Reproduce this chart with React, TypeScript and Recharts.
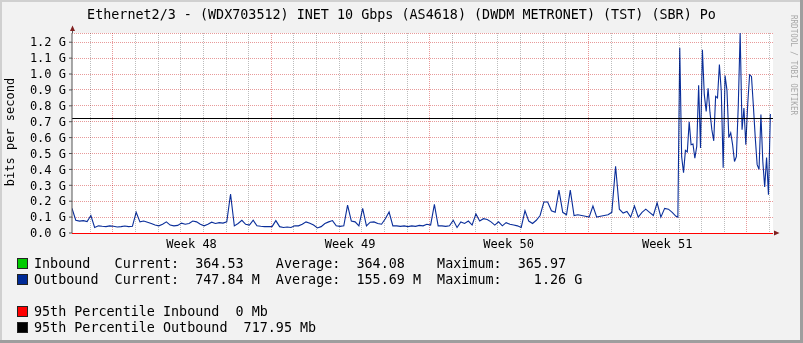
import React from 'react';
import { LineChart, Line, XAxis, YAxis, CartesianGrid, ReferenceLine } from 'recharts';

// Outbound traffic (Mbit/s), 4-hour samples from the left edge (h = 0 .. 640)
const coarseOutbound = [
  155, 80, 75, 78, 72, 110, 35, 45, 42, 40,
  45, 42, 38, 40, 44, 40, 42, 130, 70, 75,
  68, 60, 50, 45, 55, 70, 50, 45, 48, 62,
  55, 60, 75, 70, 55, 45, 55, 68, 60, 65,
  62, 70, 245, 45, 60, 80, 55, 50, 80, 45,
  42, 40, 40, 40, 78, 40, 35, 38, 35, 45,
  45, 55, 70, 62, 50, 32, 40, 60, 70, 78,
  45, 42, 45, 175, 75, 70, 45, 155, 45, 68,
  70, 60, 55, 90, 132, 45, 45, 42, 45, 40,
  45, 42, 48, 45, 55, 50, 180, 45, 45, 42,
  45, 80, 35, 70, 60, 75, 50, 120, 75, 90,
  85, 70, 50, 70, 45, 65, 55, 50, 45, 35,
  140, 75, 60, 80, 110, 195, 195, 140, 130, 270,
  130, 115, 270, 110, 115, 110, 105, 100, 170, 100,
  105, 110, 115, 130, 420, 150, 125, 135, 100, 170,
  100, 130, 150, 130, 110, 190, 100, 155, 150, 130,
  105,
];
const COARSE_STEP = 4;

// Outbound traffic (Mbit/s), 2-hour samples (h = 642 .. 740)
const fineOutbound = [
  100, 1165, 480, 380, 520, 510, 700, 555, 560, 470,
  545, 930, 535, 1153, 870, 765, 910, 760, 650, 580,
  860, 850, 1060, 890, 410, 990, 900, 600, 630, 555,
  450, 480, 800, 1258, 650, 786, 555, 810, 995, 985,
  800, 600, 430, 400, 745, 450, 290, 475, 240, 748,
];
const FINE_START = 642;
const FINE_STEP = 2;

const X_MAX_HOURS = 742.8;
const Y_MAX = 1258;
const dayGridHours = Array.from({ length: 31 }, (_, k) => 18.7 + 24 * k);
const weekGridHours = [42.7, 210.7, 378.7, 546.7, 714.7];
const weekLabelHours = [126.7, 294.7, 462.7, 630.7];
const weekLabels = ['Week 48', 'Week 49', 'Week 50', 'Week 51'];
const yTicks = [0, 100, 200, 300, 400, 500, 600, 700, 800, 900, 1000, 1100, 1200];

const percentileInbound = 0;
const percentileOutbound = 717.95;

const title = 'Ethernet2/3 - (WDX703512) INET 10 Gbps (AS4618) (DWDM METRONET) (TST) (SBR) Po';
const legendColors = ['#00CC00', '#002A97', '#FF0000', '#000000'];
const legendTexts = [
  'Inbound   Current:  364.53    Average:  364.08    Maximum:  365.97',
  'Outbound  Current:  747.84 M  Average:  155.69 M  Maximum:    1.26 G',
  '95th Percentile Inbound  0 Mb',
  '95th Percentile Outbound  717.95 Mb',
];
const legendBaselines = [268, 284, 316, 332];

const data = [
  ...coarseOutbound.map((v, i) => ({ h: i * COARSE_STEP, out: v })),
  ...fineOutbound.map((v, i) => ({ h: FINE_START + i * FINE_STEP, out: v })),
];

const MONO = '"DejaVu Sans Mono", monospace';
const W = 803;
const H = 343;
const MARGIN = { top: 33, right: 30, bottom: 90, left: 0 };
const X_AXIS_HEIGHT = 20;
const Y_AXIS_WIDTH = 72;
const PLOT_LEFT = MARGIN.left + Y_AXIS_WIDTH;
const PLOT_TOP = MARGIN.top;
const PLOT_WIDTH = W - PLOT_LEFT - MARGIN.right;
const PLOT_HEIGHT = H - MARGIN.top - MARGIN.bottom - X_AXIS_HEIGHT;
const MINOR = '#BDBDBD';
const MAJOR = '#E89A9A';

const gridX = (h: number) => Math.round(PLOT_LEFT + (h / X_MAX_HOURS) * PLOT_WIDTH) + 0.5;

export default function App() {
  return (
    <div style={{ position: 'absolute', left: 0, top: 0, width: W, height: H, background: '#F2F2F2', overflow: 'hidden' }}>
      <div style={{ position: 'absolute', left: 0, top: 0 }}>
        <LineChart width={W} height={H} data={data} margin={MARGIN}>
          <CartesianGrid vertical={false} stroke={MAJOR} strokeDasharray="1 1" fill="#FFFFFF" shapeRendering="crispEdges" />
          <XAxis
            type="number"
            dataKey="h"
            domain={[0, X_MAX_HOURS]}
            ticks={weekLabelHours}
            allowDataOverflow
            interval={0}
            height={X_AXIS_HEIGHT}
            axisLine={false}
            tickLine={false}
            tickSize={0}
            tickMargin={6}
            tickFormatter={(_v: number, i: number) => weekLabels[i]}
            tick={{ fontSize: 12, fill: '#000', fontFamily: MONO }}
          />
          <YAxis
            type="number"
            domain={[0, Y_MAX]}
            ticks={yTicks}
            interval={0}
            width={Y_AXIS_WIDTH}
            allowDataOverflow
            axisLine={{ stroke: '#555' }}
            tickLine={{ stroke: '#555' }}
            tickSize={3}
            tickMargin={3}
            tickFormatter={(v: number) => (v / 1000).toFixed(1) + ' G'}
            tick={{ fontSize: 12, fill: '#000', fontFamily: MONO }}
          />
          <Line
            type="linear"
            dataKey="out"
            stroke="#0A2E9A"
            strokeWidth={1.1}
            dot={false}
            activeDot={false}
            isAnimationActive={false}
          />
          <ReferenceLine y={percentileOutbound} stroke="#000000" strokeWidth={1} shapeRendering="crispEdges" />
          <ReferenceLine y={percentileInbound} stroke="#FF0000" strokeWidth={1} shapeRendering="crispEdges" />
        </LineChart>
      </div>
      {/* vertical grid, multiplied over the canvas so it sits visually beneath the data */}
      <svg width={W} height={H} style={{ position: 'absolute', left: 0, top: 0, pointerEvents: 'none', mixBlendMode: 'multiply' }}>
        {dayGridHours.map((h) => (
          <line key={'d' + h} x1={gridX(h)} x2={gridX(h)} y1={PLOT_TOP} y2={PLOT_TOP + PLOT_HEIGHT - 1} stroke={MINOR} strokeWidth={1} strokeDasharray="1 1" />
        ))}
        {weekGridHours.map((h) => (
          <line key={'w' + h} x1={gridX(h)} x2={gridX(h)} y1={PLOT_TOP} y2={PLOT_TOP + PLOT_HEIGHT - 1} stroke={MAJOR} strokeWidth={1} strokeDasharray="1 1" />
        ))}
      </svg>
      <svg width={W} height={H} style={{ position: 'absolute', left: 0, top: 0, pointerEvents: 'none' }}>
        {/* frame */}
        <rect x={0} y={0} width={W} height={2} fill="#D0D0D0" />
        <rect x={0} y={0} width={2} height={H} fill="#D0D0D0" />
        <rect x={W - 3} y={0} width={3} height={H} fill="#9E9E9E" />
        <rect x={0} y={H - 3} width={W} height={3} fill="#9E9E9E" />
        {/* axis arrows */}
        <line x1={72.5} y1={30} x2={72.5} y2={33} stroke="#555" strokeWidth={1} />
        <polygon points="70,31 75,31 72.5,25.5" fill="#802020" />
        <polygon points="774,230.5 774,235.5 779.5,233" fill="#802020" />
        {/* title */}
        <text x={401.5} y={19} textAnchor="middle" fontFamily={MONO} fontSize={13.4} fill="#000" style={{ whiteSpace: 'pre' }}>
          {title}
        </text>
        {/* y label */}
        <text transform="translate(14,132) rotate(-90)" textAnchor="middle" fontFamily={MONO} fontSize={12} fill="#000">
          bits per second
        </text>
        {/* watermark */}
        <text
          transform="translate(790.5,15) rotate(90)"
          fontFamily={MONO}
          fontSize={9.5}
          fill="#A8A8A8"
          textLength={100}
          lengthAdjust="spacingAndGlyphs"
        >
          RRDTOOL / TOBI OETIKER
        </text>
        {/* legend */}
        {legendTexts.map((t, i) => (
          <g key={i}>
            <rect x={17.5} y={legendBaselines[i] - 9.5} width={10} height={10} fill={legendColors[i]} stroke="#222" strokeWidth={1} />
            <text x={34} y={legendBaselines[i]} fontFamily={MONO} fontSize={13.4} fill="#000" style={{ whiteSpace: 'pre' }}>
              {t}
            </text>
          </g>
        ))}
      </svg>
    </div>
  );
}
